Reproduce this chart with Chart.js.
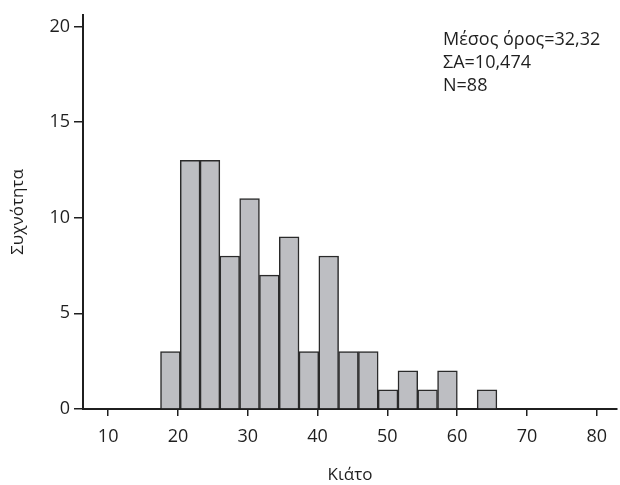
<!DOCTYPE html>
<html>
<head>
<meta charset="utf-8">
<script src="https://cdn.jsdelivr.net/npm/chart.js@4.4.1/dist/chart.umd.min.js"></script>
<style>
  html, body { margin: 0; padding: 0; background: #fff; }
  #wrap { width: 620px; height: 485px; }
</style>
</head>
<body>
<div id="wrap"><canvas id="chart" width="620" height="485"></canvas></div>
<script>
  // bin centres of the histogram (Κιάτο) and their frequencies
  const binCenters = [18.92, 21.75, 24.59, 27.42, 30.26, 33.09, 35.93, 38.76, 41.6,
    44.43, 47.27, 50.1, 52.94, 55.77, 58.61, 61.44, 64.28];
  const counts = [3, 13, 13, 8, 11, 7, 9, 3, 8, 3, 3, 1, 2, 1, 2, 0, 1];
  const xTicks = [10, 20, 30, 40, 50, 60, 70, 80];
  const yTicks = [0, 5, 10, 15, 20];
  const statsLines = ['Μέσος όρος=32,32', 'ΣΑ=10,474', 'N=88'];

  const FONT = '"Open Sans", "DejaVu Sans", sans-serif';
  const INK = '#1f1f1f';

  const statsBox = {
    id: 'statsBox',
    afterDraw(chart) {
      const ctx = chart.ctx;
      ctx.save();
      ctx.font = `18px ${FONT}`;
      ctx.fillStyle = INK;
      ctx.textBaseline = 'alphabetic';
      statsLines.forEach((line, i) => ctx.fillText(line, 443, 45 + i * 23));
      ctx.restore();
    }
  };

  new Chart(document.getElementById('chart'), {
    type: 'bar',
    data: {
      datasets: [{
        data: binCenters.map((x, i) => ({ x, y: counts[i] })),
        backgroundColor: '#bdbec2',
        borderColor: '#2a2a2a',
        borderWidth: 1.5,
        barPercentage: 1,
        categoryPercentage: 1
      }]
    },
    plugins: [statsBox],
    options: {
      responsive: false,
      animation: false,
      layout: { padding: { top: 15, right: 3, left: 0, bottom: 0 } },
      plugins: { legend: { display: false }, tooltip: { enabled: false } },
      scales: {
        x: {
          type: 'linear',
          offset: false,
          min: 6.4,
          max: 82.9,
          afterBuildTicks: (scale) => { scale.ticks = xTicks.map((v) => ({ value: v })); },
          afterFit: (scale) => { scale.height = 76; },
          grid: { display: true, offset: false, drawOnChartArea: false, drawTicks: true, tickLength: 7, color: INK, lineWidth: 1.5 },
          border: { display: true, color: INK, width: 2 },
          ticks: { color: INK, font: { family: FONT, size: 18 }, padding: 10, maxRotation: 0 },
          title: { display: true, text: 'Κιάτο', color: INK, font: { family: FONT, size: 17 }, padding: { top: 12, bottom: 0 } }
        },
        y: {
          min: 0,
          max: 20.6,
          afterBuildTicks: (scale) => { scale.ticks = yTicks.map((v) => ({ value: v })); },
          afterFit: (scale) => { scale.width = 83; },
          grid: { display: true, drawOnChartArea: false, drawTicks: true, tickLength: 9, color: INK, lineWidth: 1.5 },
          border: { display: true, color: INK, width: 2 },
          ticks: { color: INK, font: { family: FONT, size: 18 }, padding: 4 },
          title: { display: true, text: 'Συχνότητα', color: INK, font: { family: FONT, size: 17 }, padding: { top: 8, bottom: 0 } }
        }
      }
    }
  });
</script>
</body>
</html>
